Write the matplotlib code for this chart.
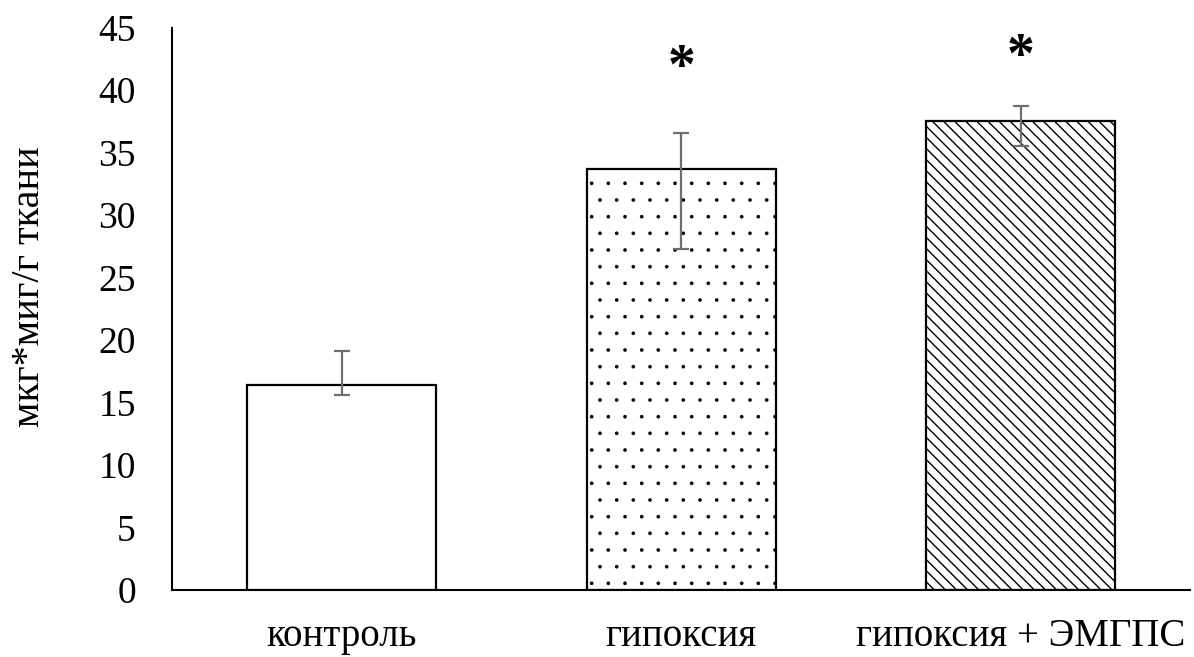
import numpy as np
import matplotlib.pyplot as plt

# groups and measured values
groups = ['контроль', 'гипоксия', 'гипоксия + ЭМГПС']
values = [16.4, 33.7, 37.5]
err_low = [0.8, 6.4, 2.0]
err_high = [2.7, 2.9, 1.2]
signif = ['', '*', '*']
signif_y = [0, 42.8, 43.7]
hatches = ['', '.', '\\\\\\']
hatch_lw = [1.0, 0.2, 1.0]

plt.rcParams['font.family'] = ['Liberation Serif', 'DejaVu Serif']

fig = plt.figure(figsize=(11.94, 6.57), dpi=100)
ax = fig.add_axes([0.144, 0.102, 0.853, 0.856])

x = np.arange(len(groups))
for i in range(len(groups)):
  with plt.rc_context({'hatch.linewidth': hatch_lw[i]}):
    b = ax.bar(x[i], values[i], width=0.556, color='white', edgecolor='black',
               linewidth=1.6, hatch=hatches[i], zorder=2)
  for p in b.patches:
    if hasattr(p, 'set_hatch_linewidth'):
      p.set_hatch_linewidth(hatch_lw[i])

ax.errorbar(x, values, yerr=[err_low, err_high], fmt='none', ecolor='#6e6e6e',
            elinewidth=1.6, capsize=5.5, capthick=1.6, zorder=3)

# significance marks, glyph sits high in its box so nudge it down
for i in range(len(groups)):
  if signif[i]:
    ax.annotate(signif[i], (x[i], signif_y[i]), xytext=(0, -10),
                textcoords='offset points', ha='center', va='center',
                fontsize=40, fontweight='bold')

ax.set_xlim(-0.5, 2.5)
ax.set_ylim(0, 45)
ax.set_yticks(np.arange(0, 46, 5))
ax.set_xticks(x)
ax.set_xticklabels(groups)
ax.tick_params(axis='both', length=0)
ax.tick_params(axis='y', pad=26, labelsize=27)
ax.tick_params(axis='x', pad=20, labelsize=28)

for s in ['top', 'right']:
  ax.spines[s].set_visible(False)
for s in ['left', 'bottom']:
  ax.spines[s].set_linewidth(1.5)

ax.set_ylabel('мкг*миг/г ткани', fontsize=29, va='center')
ax.yaxis.set_label_coords(-0.14, 0.54)

fig.savefig('out.png', dpi=100)
